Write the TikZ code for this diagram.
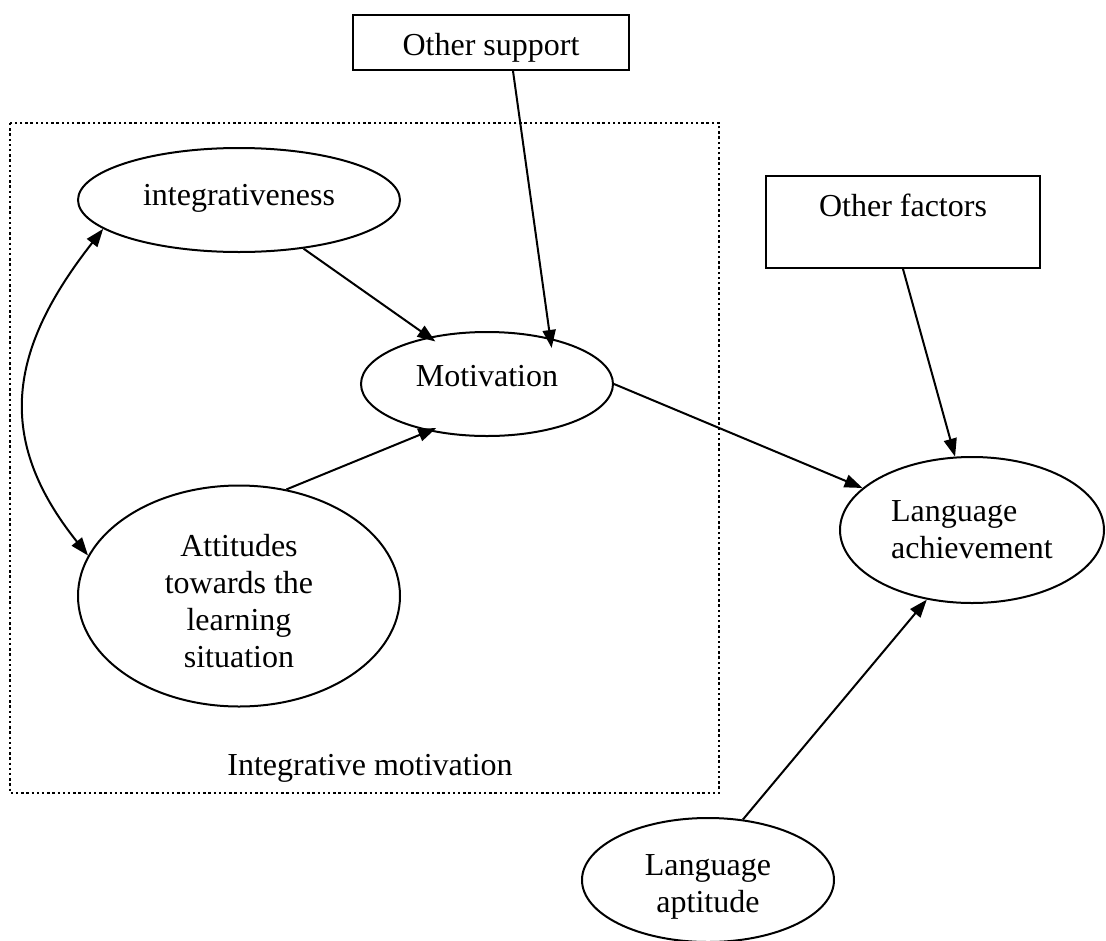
\documentclass[tikz,border=0pt]{standalone}
\usepackage{fontspec}
\setmainfont{Liberation Serif}
\usetikzlibrary{shapes.geometric,arrows.meta}
\begin{document}
\begin{tikzpicture}[x=1pt,y=-1pt,
  every node/.style={font=\fontsize{32}{37}\selectfont},
  oval/.style={draw,ellipse,line width=2pt,inner sep=0pt,align=center},
  boxnode/.style={draw,rectangle,line width=2pt,inner sep=0pt},
  conn/.style={line width=2pt,-{Triangle[length=18pt,width=13pt]}},
  dconn/.style={line width=2pt,{Triangle[length=18pt,width=13pt]}-{Triangle[length=18pt,width=13pt]}},
  dotframe/.style={line width=2.4pt,dash pattern=on 2.4pt off 2.8pt},
]
\useasboundingbox (0,0) rectangle (1106,940);
% frame
\draw[dotframe] (10,123) rectangle (719,793);
% nodes
\node[boxnode,minimum width=276pt,minimum height=55pt,text height=32pt,text depth=7pt] (osup) at (491,42.5) {Other support};
\node[boxnode,minimum width=274pt,minimum height=92pt,text height=22pt,text depth=34pt] (ofac) at (903,222) {Other factors};
\node[oval,minimum width=322pt,minimum height=104pt,text height=22pt,text depth=12pt] (integ) at (239,200) {integrativeness};
\node[oval,minimum width=252pt,minimum height=104pt,text height=22pt,text depth=18pt] (motiv) at (487,384) {Motivation};
\node[oval,minimum width=322pt,minimum height=221pt] (att) at (239,596) {\rule{0pt}{33pt}Attitudes\\towards the\\learning\\situation};
\node[oval,minimum width=264pt,minimum height=146pt,align=left] (lach) at (972,530) {Language\\achievement};
\node[oval,minimum width=252pt,minimum height=124pt] (apt) at (708,880) {\rule{0pt}{34pt}Language\\aptitude};
\node (imlab) at (370,768) {Integrative motivation};
% connectors
\draw[conn,shorten >=-8pt] (integ.-37) -- (motiv.141);
\draw[conn,shorten >=-10pt] ([xshift=22pt]osup.south) -- (motiv.36);
\draw[conn,shorten >=-8pt] (att.66.5) -- (motiv.219);
\draw[dconn] (integ.192) .. controls (9,349) and (-6,438) .. (att.165.5);
\draw[conn] (motiv.east) -- (lach.159);
\draw[conn] (ofac.south) -- (lach.103);
\draw[conn] (apt.60) -- (lach.237);
\end{tikzpicture}
\end{document}
